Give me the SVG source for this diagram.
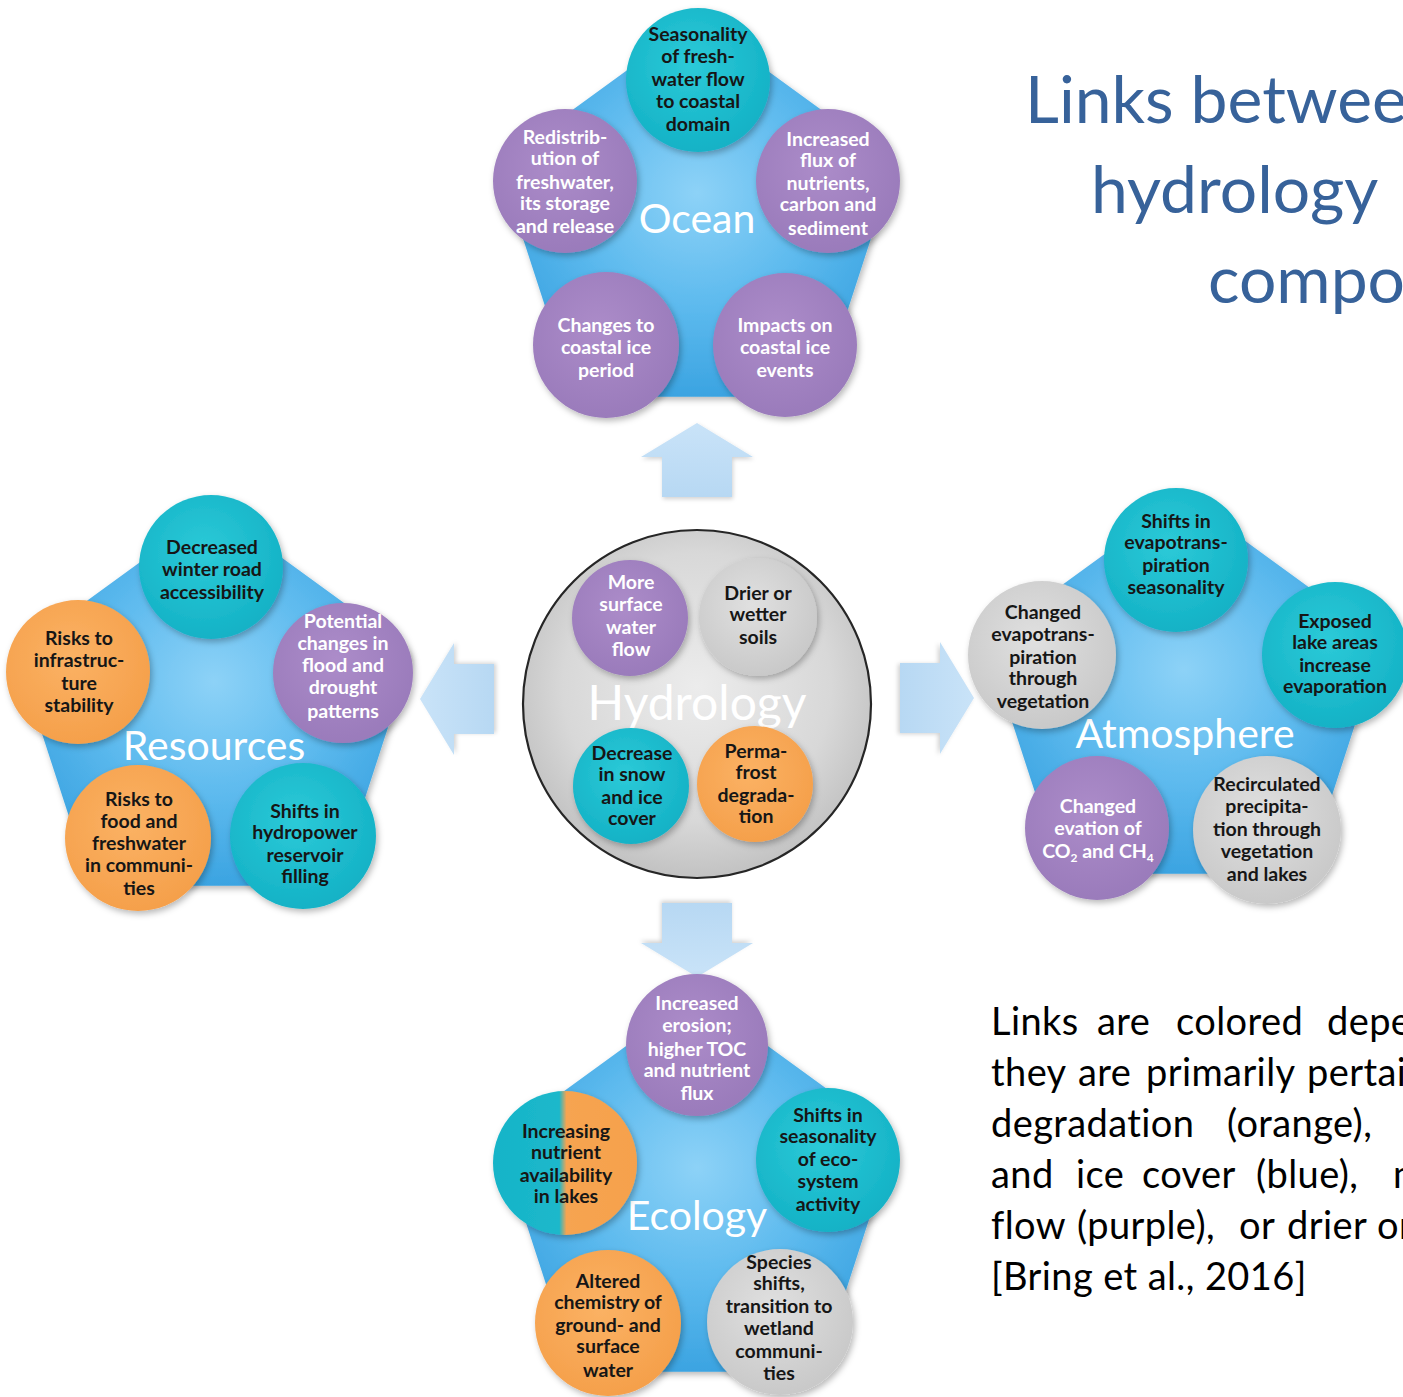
<svg xmlns="http://www.w3.org/2000/svg" width="1403" height="1397" viewBox="0 0 1403 1397">
  <style>
    .lbl { font-family: Lato, "Liberation Sans", sans-serif; font-weight: bold; font-size: 19.5px; text-anchor: middle; }
    .dk { fill: #161616; }
    .wt { fill: #ffffff; }
    .big { font-family: Lato, "Liberation Sans", sans-serif; font-size: 41px; fill: #ffffff; text-anchor: middle; }
    .title { font-family: Lato, "Liberation Sans", sans-serif; font-size: 66px; fill: #37629a; }
    .cap { font-family: Lato, "Liberation Sans", sans-serif; font-size: 38px; letter-spacing: 0.4px; fill: #000000; }
    .teal { fill: url(#gTeal); }
    .purple { fill: url(#gPurple); }
    .orange { fill: url(#gOrange); }
    .gray { fill: url(#gGray); }
    .arrow { fill: url(#gArrow); filter: url(#shArrow); }
    .circ { filter: url(#sh); }
  </style>
  <defs>
    <radialGradient id="gBlue" cx="50%" cy="45%" r="60%">
      <stop offset="0" stop-color="#8dd2f7"/>
      <stop offset="0.55" stop-color="#5dbaee"/>
      <stop offset="1" stop-color="#3aa3e1"/>
    </radialGradient>
    <radialGradient id="gTeal" cx="45%" cy="40%" r="60%">
      <stop offset="0" stop-color="#2ccad8"/>
      <stop offset="1" stop-color="#14b2c6"/>
    </radialGradient>
    <radialGradient id="gPurple" cx="45%" cy="40%" r="60%">
      <stop offset="0" stop-color="#ac8cc9"/>
      <stop offset="1" stop-color="#9a7bbb"/>
    </radialGradient>
    <radialGradient id="gOrange" cx="45%" cy="40%" r="60%">
      <stop offset="0" stop-color="#fbb264"/>
      <stop offset="1" stop-color="#f5a04b"/>
    </radialGradient>
    <radialGradient id="gGray" cx="45%" cy="40%" r="60%">
      <stop offset="0" stop-color="#e0e0e0"/>
      <stop offset="1" stop-color="#c9c9c9"/>
    </radialGradient>
    <radialGradient id="gHydro" cx="50%" cy="45%" r="55%">
      <stop offset="0" stop-color="#ececec"/>
      <stop offset="0.7" stop-color="#d8d8d8"/>
      <stop offset="1" stop-color="#c2c2c2"/>
    </radialGradient>
    <linearGradient id="gSplit" x1="0" y1="0" x2="1" y2="0">
      <stop offset="0" stop-color="#16b4c8"/>
      <stop offset="0.46" stop-color="#1cb8cb"/>
      <stop offset="0.51" stop-color="#f6a451"/>
      <stop offset="1" stop-color="#f6a14c"/>
    </linearGradient>
    <linearGradient id="gArrow" x1="0" y1="0" x2="0" y2="1">
      <stop offset="0" stop-color="#c9e3f8"/>
      <stop offset="1" stop-color="#b7d8f3"/>
    </linearGradient>
    <filter id="sh" x="-20%" y="-20%" width="140%" height="140%">
      <feDropShadow dx="2" dy="3" stdDeviation="3" flood-color="#000" flood-opacity="0.28"/>
    </filter>
    <filter id="shArrow" x="-20%" y="-20%" width="140%" height="140%">
      <feDropShadow dx="1" dy="2" stdDeviation="2" flood-color="#000" flood-opacity="0.18"/>
    </filter>
    <!-- rounded pentagon backdrop, centred on the origin -->
    <polygon id="penta" points="0,-190 180.7,-58.7 111.7,153.7 -111.7,153.7 -180.7,-58.7"
             fill="url(#gBlue)" stroke="url(#gBlue)" stroke-width="30" stroke-linejoin="round"/>
    <!-- block arrow pointing up, centred on the origin -->
    <polygon id="arr" points="0,-37 56,-3 35,-3 35,37 -35,37 -35,-3 -56,-3"/>
  </defs>

  <rect width="1403" height="1397" fill="#ffffff"/>

  <!-- title -->
  <g id="title" class="title">
    <text x="1025" y="123">Links between</text>
    <text x="1091" y="213">hydrology</text>
    <text x="1208" y="303">components</text>
  </g>

  <!-- caption, justified word by word -->
  <g id="caption" class="cap">
    <text y="1035"><tspan x="991">Links</tspan><tspan x="1097">are</tspan><tspan x="1176">colored</tspan><tspan x="1327">depending</tspan></text>
    <text y="1086"><tspan x="991">they</tspan><tspan x="1078">are</tspan><tspan x="1146">primarily</tspan><tspan x="1307">pertaining</tspan></text>
    <text y="1137"><tspan x="991">degradation</tspan><tspan x="1227">(orange),</tspan></text>
    <text y="1188"><tspan x="991">and</tspan><tspan x="1076">ice</tspan><tspan x="1142">cover</tspan><tspan x="1256">(blue),</tspan><tspan x="1393">more</tspan></text>
    <text y="1239"><tspan x="991">flow</tspan><tspan x="1077">(purple),</tspan><tspan x="1239">or</tspan><tspan x="1287">drier</tspan><tspan x="1377">or</tspan></text>
    <text y="1290"><tspan x="991">[Bring et al., 2016]</tspan></text>
  </g>

  <!-- connectors: block arrows from the hydrology hub -->
  <g id="connectors">
    <use href="#arr" class="arrow" transform="translate(697,460)"/>
    <use href="#arr" class="arrow" transform="translate(937,698) rotate(90)"/>
    <use href="#arr" class="arrow" transform="translate(457,699) rotate(-90)"/>
    <use href="#arr" class="arrow" transform="translate(697,940) rotate(180)"/>
  </g>

  <!-- Hydrology hub -->
  <g id="hydrology">
    <circle cx="697" cy="704" r="174" fill="url(#gHydro)" stroke="#262626" stroke-width="2.2"/>
    <text x="697" y="720" class="big" style="font-size:48px">Hydrology</text>
    <g id="hy-flow">
      <circle class="circ purple" cx="630" cy="618" r="58"/>
      <text class="lbl wt"><tspan x="631" y="589">More</tspan><tspan x="631" y="611">surface</tspan><tspan x="631" y="634">water</tspan><tspan x="631" y="656">flow</tspan></text>
    </g>
    <g id="hy-soils">
      <circle class="circ gray" cx="758" cy="617" r="59"/>
      <text class="lbl dk"><tspan x="758" y="600">Drier or</tspan><tspan x="758" y="621">wetter</tspan><tspan x="758" y="644">soils</tspan></text>
    </g>
    <g id="hy-snow">
      <circle class="circ teal" cx="631" cy="786" r="58"/>
      <text class="lbl dk"><tspan x="632" y="760">Decrease</tspan><tspan x="632" y="781">in snow</tspan><tspan x="632" y="804">and ice</tspan><tspan x="632" y="825">cover</tspan></text>
    </g>
    <g id="hy-permafrost">
      <circle class="circ orange" cx="755" cy="784" r="58"/>
      <text class="lbl dk"><tspan x="756" y="758">Perma-</tspan><tspan x="756" y="779">frost</tspan><tspan x="756" y="802">degrada-</tspan><tspan x="756" y="823">tion</tspan></text>
    </g>
  </g>

  <!-- Ocean -->
  <g id="ocean">
    <use href="#penta" class="circ" transform="translate(697,228)"/>
    <text x="697" y="233" class="big">Ocean</text>
    <g id="oc-seasonality">
      <circle class="circ teal" cx="698" cy="80" r="72"/>
      <text class="lbl dk"><tspan x="698" y="41">Seasonality</tspan><tspan x="698" y="63">of fresh-</tspan><tspan x="698" y="86">water flow</tspan><tspan x="698" y="108">to coastal</tspan><tspan x="698" y="131">domain</tspan></text>
    </g>
    <g id="oc-redistribution">
      <circle class="circ purple" cx="565" cy="181" r="72"/>
      <text class="lbl wt"><tspan x="565" y="144">Redistrib-</tspan><tspan x="565" y="165">ution of</tspan><tspan x="565" y="189">freshwater,</tspan><tspan x="565" y="210">its storage</tspan><tspan x="565" y="233">and release</tspan></text>
    </g>
    <g id="oc-flux">
      <circle class="circ purple" cx="828" cy="181" r="72"/>
      <text class="lbl wt"><tspan x="828" y="146">Increased</tspan><tspan x="828" y="167">flux of</tspan><tspan x="828" y="190">nutrients,</tspan><tspan x="828" y="211">carbon and</tspan><tspan x="828" y="235">sediment</tspan></text>
    </g>
    <g id="oc-ice-period">
      <circle class="circ purple" cx="606" cy="345" r="73"/>
      <text class="lbl wt"><tspan x="606" y="332">Changes to</tspan><tspan x="606" y="354">coastal ice</tspan><tspan x="606" y="377">period</tspan></text>
    </g>
    <g id="oc-ice-events">
      <circle class="circ purple" cx="785" cy="345" r="72"/>
      <text class="lbl wt"><tspan x="785" y="332">Impacts on</tspan><tspan x="785" y="354">coastal ice</tspan><tspan x="785" y="377">events</tspan></text>
    </g>
  </g>

  <!-- Resources -->
  <g id="resources">
    <use href="#penta" class="circ" transform="translate(214,717)"/>
    <text x="214" y="760" class="big">Resources</text>
    <g id="rs-road">
      <circle class="circ teal" cx="211" cy="567" r="72"/>
      <text class="lbl dk"><tspan x="212" y="554">Decreased</tspan><tspan x="212" y="576">winter road</tspan><tspan x="212" y="599">accessibility</tspan></text>
    </g>
    <g id="rs-infrastructure">
      <circle class="circ orange" cx="78" cy="672" r="72"/>
      <text class="lbl dk"><tspan x="79" y="645">Risks to</tspan><tspan x="79" y="667">infrastruc-</tspan><tspan x="79" y="690">ture</tspan><tspan x="79" y="712">stability</tspan></text>
    </g>
    <g id="rs-flood">
      <circle class="circ purple" cx="343" cy="673" r="70"/>
      <text class="lbl wt"><tspan x="343" y="628">Potential</tspan><tspan x="343" y="650">changes in</tspan><tspan x="343" y="672">flood and</tspan><tspan x="343" y="694">drought</tspan><tspan x="343" y="718">patterns</tspan></text>
    </g>
    <g id="rs-food">
      <circle class="circ orange" cx="138" cy="838" r="73"/>
      <text class="lbl dk"><tspan x="139" y="806">Risks to</tspan><tspan x="139" y="828">food and</tspan><tspan x="139" y="850">freshwater</tspan><tspan x="139" y="872">in communi-</tspan><tspan x="139" y="895">ties</tspan></text>
    </g>
    <g id="rs-hydropower">
      <circle class="circ teal" cx="303" cy="836" r="73"/>
      <text class="lbl dk"><tspan x="305" y="818">Shifts in</tspan><tspan x="305" y="839">hydropower</tspan><tspan x="305" y="862">reservoir</tspan><tspan x="305" y="883">filling</tspan></text>
    </g>
  </g>

  <!-- Atmosphere -->
  <g id="atmosphere">
    <use href="#penta" class="circ" transform="translate(1184,705)"/>
    <text x="1185" y="748" class="big">Atmosphere</text>
    <g id="at-seasonality">
      <circle class="circ teal" cx="1176" cy="560" r="72"/>
      <text class="lbl dk"><tspan x="1176" y="528">Shifts in</tspan><tspan x="1176" y="549">evapotrans-</tspan><tspan x="1176" y="572">piration</tspan><tspan x="1176" y="594">seasonality</tspan></text>
    </g>
    <g id="at-vegetation">
      <circle class="circ gray" cx="1042" cy="655" r="74"/>
      <text class="lbl dk"><tspan x="1043" y="619">Changed</tspan><tspan x="1043" y="641">evapotrans-</tspan><tspan x="1043" y="664">piration</tspan><tspan x="1043" y="685">through</tspan><tspan x="1043" y="708">vegetation</tspan></text>
    </g>
    <g id="at-lakes">
      <circle class="circ teal" cx="1335" cy="655" r="73"/>
      <text class="lbl dk"><tspan x="1335" y="628">Exposed</tspan><tspan x="1335" y="649">lake areas</tspan><tspan x="1335" y="672">increase</tspan><tspan x="1335" y="693">evaporation</tspan></text>
    </g>
    <g id="at-gases">
      <circle class="circ purple" cx="1097" cy="828" r="72"/>
      <text class="lbl wt"><tspan x="1098" y="813">Changed</tspan><tspan x="1098" y="835">evation of</tspan><tspan x="1098" y="858">CO<tspan dy="4" style="font-size:12px">2</tspan><tspan dy="-4"> and CH</tspan><tspan dy="4" style="font-size:12px">4</tspan></tspan></text>
    </g>
    <g id="at-recirculated">
      <circle class="circ gray" cx="1267" cy="830" r="74"/>
      <text class="lbl dk"><tspan x="1267" y="791">Recirculated</tspan><tspan x="1267" y="813">precipita-</tspan><tspan x="1267" y="836">tion through</tspan><tspan x="1267" y="858">vegetation</tspan><tspan x="1267" y="881">and lakes</tspan></text>
    </g>
  </g>

  <!-- Ecology -->
  <g id="ecology">
    <use href="#penta" class="circ" transform="translate(697,1203)"/>
    <text x="697" y="1230" class="big">Ecology</text>
    <g id="ec-erosion">
      <circle class="circ purple" cx="697" cy="1045" r="71"/>
      <text class="lbl wt"><tspan x="697" y="1010">Increased</tspan><tspan x="697" y="1032">erosion;</tspan><tspan x="697" y="1056">higher TOC</tspan><tspan x="697" y="1077">and nutrient</tspan><tspan x="697" y="1100">flux</tspan></text>
    </g>
    <g id="ec-nutrient">
      <circle class="circ" cx="565" cy="1163" r="72" fill="url(#gSplit)"/>
      <text class="lbl dk"><tspan x="566" y="1138">Increasing</tspan><tspan x="566" y="1159">nutrient</tspan><tspan x="566" y="1182">availability</tspan><tspan x="566" y="1203">in lakes</tspan></text>
    </g>
    <g id="ec-activity">
      <circle class="circ teal" cx="828" cy="1160" r="72"/>
      <text class="lbl dk"><tspan x="828" y="1122">Shifts in</tspan><tspan x="828" y="1143">seasonality</tspan><tspan x="828" y="1166">of eco-</tspan><tspan x="828" y="1188">system</tspan><tspan x="828" y="1211">activity</tspan></text>
    </g>
    <g id="ec-chemistry">
      <circle class="circ orange" cx="608" cy="1323" r="73"/>
      <text class="lbl dk"><tspan x="608" y="1288">Altered</tspan><tspan x="608" y="1309">chemistry of</tspan><tspan x="608" y="1332">ground- and</tspan><tspan x="608" y="1353">surface</tspan><tspan x="608" y="1377">water</tspan></text>
    </g>
    <g id="ec-species">
      <circle class="circ gray" cx="780" cy="1322" r="73"/>
      <text class="lbl dk"><tspan x="779" y="1269">Species</tspan><tspan x="779" y="1290">shifts,</tspan><tspan x="779" y="1313">transition to</tspan><tspan x="779" y="1335">wetland</tspan><tspan x="779" y="1358">communi-</tspan><tspan x="779" y="1380">ties</tspan></text>
    </g>
  </g>
</svg>
